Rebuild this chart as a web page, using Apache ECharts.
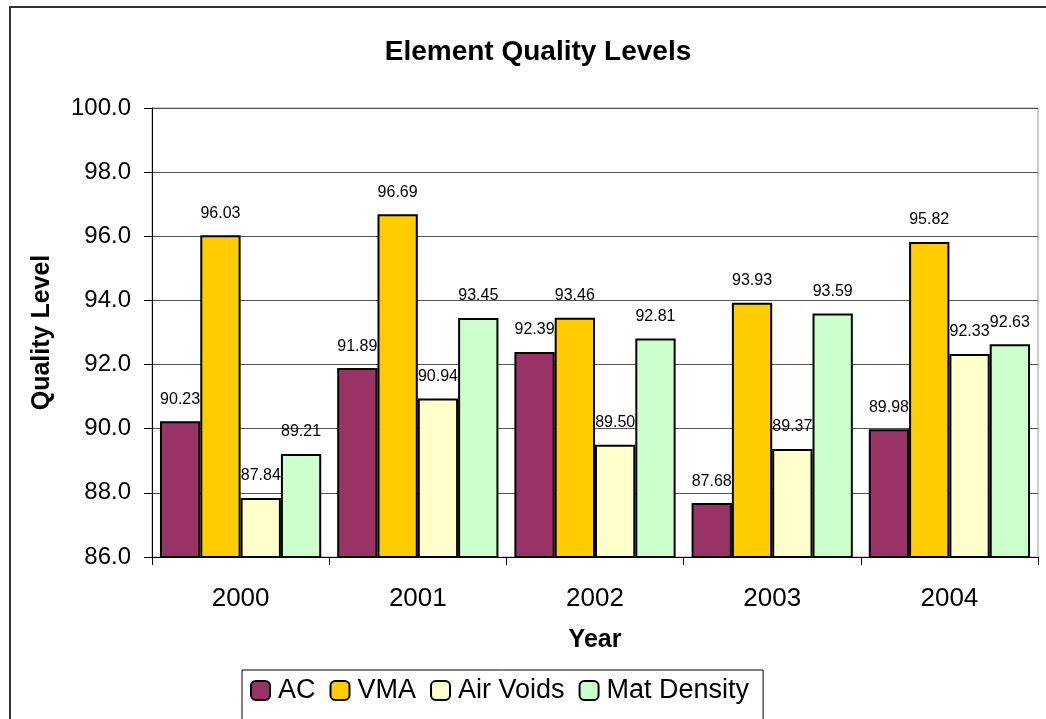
<!DOCTYPE html>
<html>
<head>
<meta charset="utf-8">
<script src="https://cdn.jsdelivr.net/npm/echarts@6/dist/echarts.min.js"></script>
<style>
  html, body { margin: 0; padding: 0; background: #fff; }
  #chart { width: 1046px; height: 719px; }
</style>
</head>
<body>
<div id="chart"></div>
<script>
var years = ['2000', '2001', '2002', '2003', '2004'];
var acValues = [90.23, 91.89, 92.39, 87.68, 89.98];
var vmaValues = [96.03, 96.69, 93.46, 93.93, 95.82];
var airVoidsValues = [87.84, 90.94, 89.50, 89.37, 92.33];
var matDensityValues = [89.21, 93.45, 92.81, 93.59, 92.63];

var seriesNames = ['AC', 'VMA', 'Air Voids', 'Mat Density'];
var seriesData = [acValues, vmaValues, airVoidsValues, matDensityValues];
var seriesColors = ['#993366', '#FFCC00', '#FFFFCC', '#CCFFCC'];

var chart = echarts.init(document.getElementById('chart'));

chart.setOption({
  animation: false,
  textStyle: { fontFamily: 'Liberation Sans, Arial, sans-serif' },
  title: {
    text: 'Element Quality Levels',
    left: 533,
    textAlign: 'center',
    top: 33,
    textStyle: { fontSize: 28, fontWeight: 'bold', color: '#000' }
  },
  graphic: [{
    type: 'rect',
    shape: { x: 10, y: 7, width: 1100, height: 800 },
    style: { fill: 'none', stroke: '#333', lineWidth: 2 },
    silent: true
  }],
  legend: {
    data: seriesNames,
    left: 242,
    top: 670,
    orient: 'horizontal',
    itemWidth: 19,
    itemHeight: 19,
    itemGap: 14,
    padding: [7, 14, 20, 8],
    borderColor: '#000',
    borderWidth: 1,
    textStyle: { fontSize: 27, color: '#000', padding: [0, 0, 0, 3] }
  },
  grid: {
    left: 152,
    right: 8,
    top: 108,
    bottom: 162,
    show: true,
    borderColor: '#999',
    borderWidth: 1
  },
  xAxis: {
    type: 'category',
    data: years,
    name: 'Year',
    nameLocation: 'middle',
    nameGap: 71,
    nameTextStyle: { fontSize: 25, fontWeight: 'bold', color: '#000' },
    axisLine: { lineStyle: { color: '#000', width: 1 } },
    axisTick: { show: true, length: 8, lineStyle: { color: '#000' } },
    axisLabel: { fontSize: 26, color: '#000', margin: 29 }
  },
  yAxis: {
    type: 'value',
    min: 86,
    max: 100,
    interval: 2,
    name: 'Quality Level',
    nameLocation: 'middle',
    nameGap: 97,
    nameRotate: 90,
    nameTextStyle: { fontSize: 25, fontWeight: 'bold', color: '#000' },
    axisLine: { show: true, lineStyle: { color: '#000', width: 1 } },
    axisTick: { show: true, length: 8, lineStyle: { color: '#000' } },
    axisLabel: {
      fontSize: 24,
      color: '#000',
      margin: 21,
      formatter: function (v) { return v.toFixed(1); }
    },
    splitLine: { show: true, lineStyle: { color: '#555', width: 1 } }
  },
  series: seriesNames.map(function (name, i) {
    return {
      name: name,
      type: 'bar',
      data: seriesData[i],
      barGap: '0%',
      barCategoryGap: '9%',
      itemStyle: { color: seriesColors[i], borderColor: '#000', borderWidth: 2 },
      label: {
        show: true,
        position: 'top',
        distance: 14,
        fontSize: 16,
        color: '#000',
        formatter: function (p) { return p.value.toFixed(2); }
      }
    };
  })
});
</script>
</body>
</html>
